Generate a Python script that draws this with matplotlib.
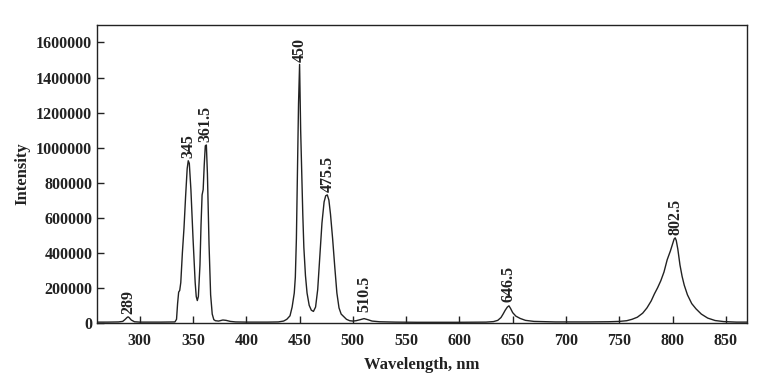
import matplotlib
matplotlib.use("Agg")
import matplotlib.pyplot as plt

# Spectrum (wavelength in nm, intensity in counts)
wavelength = [260, 270, 280, 284, 286, 288, 289, 290, 292, 295, 300, 320, 333, 334.5, 335.5,
              336.5, 337.5, 338.5, 340, 341.5, 343, 344.5, 345.5, 346.5, 348, 350, 352, 353,
              354, 355, 356.5, 357.5, 358.5, 359.5, 360.5, 361.5, 362.5, 363.5, 365, 366.5,
              368, 369.5, 371, 374, 378, 381, 385, 390, 400, 420, 430, 435, 438, 441, 443,
              445, 446, 447, 448, 449, 450, 451, 452, 453, 454, 455.5, 457, 459, 461, 463,
              465, 467, 469, 471, 473, 474.5, 476, 477.5, 479, 481, 483, 485, 487, 489, 491,
              494, 497, 500, 503, 507, 510.5, 514, 518, 525, 540, 560, 600, 625, 632, 636,
              639, 641, 643, 645, 646.5, 648, 650, 653, 657, 662, 670, 690, 720, 740, 750,
              757, 762, 767, 772, 776, 780, 783, 786, 789, 792, 795, 798, 800, 801.5, 802.5,
              803.5, 805, 807, 809, 811, 814, 818, 822, 827, 833, 840, 848, 860, 870]
intensity = [4000, 4000, 5000, 8000, 18000, 30000, 34000, 30000, 16000, 6000, 4000, 4000, 5000,
             20000, 110000, 175000, 185000, 230000, 400000, 540000, 720000, 880000, 925000,
             910000, 760000, 480000, 230000, 150000, 127000, 150000, 330000, 560000, 730000,
             760000, 900000, 1010000, 1015000, 850000, 450000, 160000, 50000, 18000, 12000,
             10000, 16000, 14000, 8000, 5000, 4000, 4000, 5000, 10000, 20000, 40000, 90000,
             170000, 260000, 480000, 850000, 1250000, 1475000, 1100000, 850000, 620000,
             430000, 270000, 170000, 100000, 72000, 65000, 90000, 190000, 380000, 570000,
             690000, 725000, 730000, 700000, 620000, 480000, 320000, 170000, 85000, 50000,
             38000, 20000, 12000, 10000, 12000, 18000, 24000, 18000, 10000, 6000, 4000, 3000,
             3000, 4000, 7000, 14000, 30000, 50000, 72000, 90000, 97000, 82000, 58000, 38000,
             25000, 14000, 8000, 5000, 5000, 6000, 8000, 12000, 20000, 32000, 55000, 85000,
             125000, 165000, 200000, 240000, 290000, 360000, 410000, 450000, 478000, 485000,
             470000, 420000, 330000, 265000, 215000, 160000, 110000, 80000, 50000, 27000,
             13000, 7000, 4000, 4000]

# Peak labels
peak_labels = ["289", "345", "361.5", "450", "475.5", "510.5", "646.5", "802.5"]
peak_x = [289, 345.5, 362, 450, 476, 511, 646.5, 802.5]
peak_y = [34000, 925000, 1015000, 1475000, 730000, 45000, 105000, 485000]

font = "Liberation Serif"

fig = plt.figure(figsize=(7.71, 3.78), dpi=100)
ax = fig.add_axes([0.126, 0.146, 0.843, 0.788])

ax.plot(wavelength, intensity, color="#222222", linewidth=1.0)

for label, x, y in zip(peak_labels, peak_x, peak_y):
	ax.annotate(label, xy=(x, y), xytext=(0, 2), textcoords="offset points",
			rotation=90, ha="center", va="bottom", fontsize=11.5,
			fontweight="bold", family=font, color="#222222")

ax.set_xlim(260, 870)
ax.set_ylim(0, 1700000)
ax.set_xticks(range(300, 851, 50))
ax.set_yticks(range(0, 1600001, 200000))
ax.set_yticklabels([str(v) for v in range(0, 1600001, 200000)])
ax.tick_params(direction="in", length=5, width=1, labelsize=11.5, colors="#222222")
ax.tick_params(axis="x", pad=7)
for lab in ax.get_xticklabels() + ax.get_yticklabels():
	lab.set_fontweight("bold")
	lab.set_family(font)
for spine in ax.spines.values():
	spine.set_linewidth(1.0)
	spine.set_color("#222222")

ax.set_xlabel("Wavelength, nm", fontsize=12, fontweight="bold", family=font, color="#222222",
		labelpad=6)
ax.set_ylabel("Intensity", fontsize=12, fontweight="bold", family=font, color="#222222",
		labelpad=4)

fig.savefig("out.png", dpi=100)
